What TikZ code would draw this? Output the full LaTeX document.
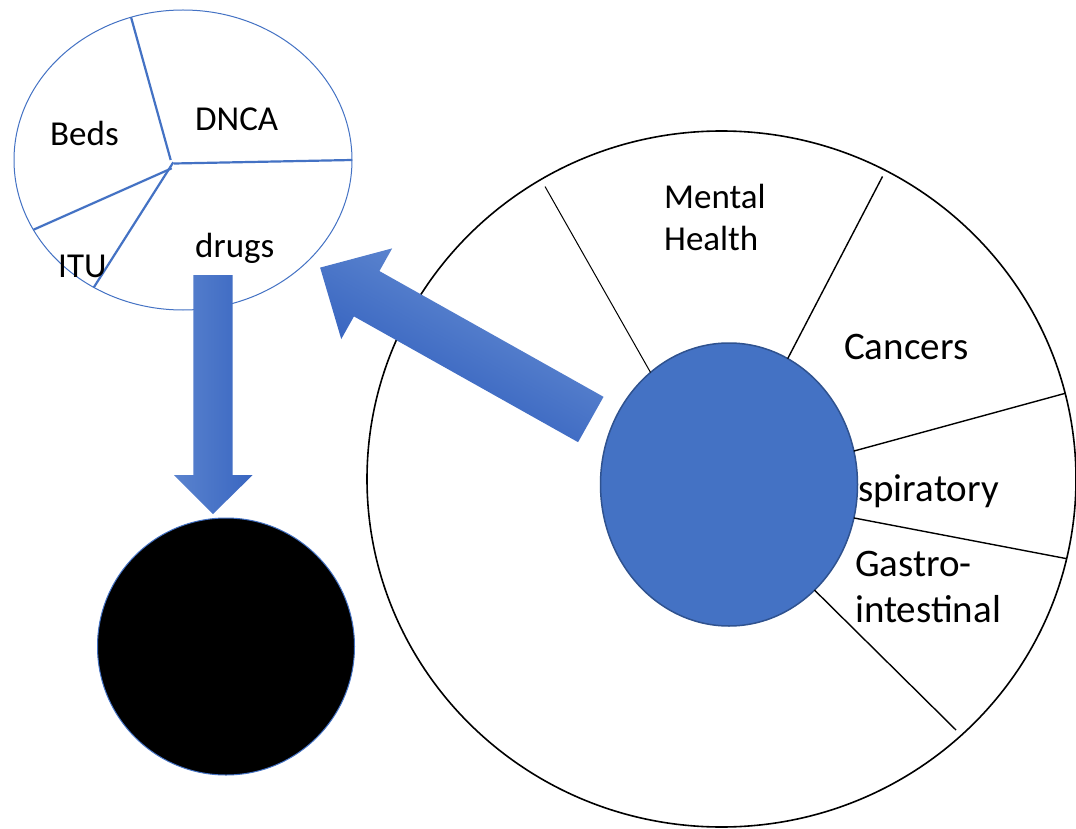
\documentclass[tikz,border=0pt]{standalone}
\usepackage{fontspec}
\setmainfont{Carlito}
\usetikzlibrary{shapes.geometric}
\definecolor{accent}{HTML}{4472C4}
\definecolor{accentdark}{HTML}{2F528F}
\definecolor{shadelight}{HTML}{5A83CE}
\definecolor{shadedark}{HTML}{3966C1}
\begin{document}
\begin{tikzpicture}[x=1pt,y=-1pt,
  oval/.style={ellipse, inner sep=0pt, outer sep=0pt},
  spoke/.style={draw=accent, line width=2.2pt},
  ray/.style={draw=black, line width=1.4pt},
  lbl/.style={anchor=base west, inner sep=0pt, font=\fontsize{35}{42}\selectfont},
  biglbl/.style={anchor=base west, inner sep=0pt, font=\fontsize{39}{46}\selectfont},
  blockarrow/.style={draw=none}]
\useasboundingbox (0,0) rectangle (1076,829);
\fill[white] (0,0) rectangle (1076,829);

% small pie, top left
\node[oval, draw=accent, line width=1pt, minimum width=338pt, minimum height=300pt] (pie) at (183,160) {};
\coordinate (pa) at (170.7,160);
\coordinate (pb) at (174,163.5);
\coordinate (pc) at (171.7,168.3);
\coordinate (pd) at (173.3,162.3);
\draw[spoke] (pie.110) -- (pa);
\draw[spoke] (pb) -- (pie.0);
\draw[spoke] (pie.205.2) -- (pc);
\draw[spoke] (pie.235.7) -- (pd);
\node[lbl] (beds) at (50,146) {Beds};
\node[lbl] (dnca) at (195,131) {DNCA};
\node[lbl] (drugs) at (195,258) {drugs};
\node[lbl] (itu) at (58,277) {ITU};

% black disc, bottom left
\node[circle, fill=black, draw=accent, line width=1pt, inner sep=0pt, outer sep=0pt, minimum size=257pt] (sink) at (226,646.5) {};

% large ring with its hub
\node[oval, draw=black, line width=1.6pt, minimum width=709pt, minimum height=696pt] (ring) at (721.5,479) {};
\node[oval, fill=accent, draw=accentdark, line width=1.5pt, minimum width=257pt, minimum height=283pt] (hub) at (729,484.5) {};
\coordinate (g1) at (545,186.5);
\coordinate (g2) at (882.5,176.5);
\coordinate (g5) at (956,730);
\draw[draw=black, line width=1pt] (hub.125.8) -- (g1);
\draw[ray] (hub.65.6) -- (g2);
\draw[ray] (hub.15.5) -- (ring.14.65);
\draw[ray] (hub.-15.7) -- (ring.-13.75);
\draw[ray] (hub.-51.3) -- (g5);

\node[lbl] (mental) at (664,209) {Mental};
\node[lbl] (health) at (664,251) {Health};
\node[biglbl] (cancers) at (844,359) {Cancers};
\node[biglbl] (resp) at (858,501) {spiratory};
\node[biglbl] (gastro) at (855,576) {Gastro-};
\node[biglbl] (intest) at (855,622) {intestinal};

% block arrow from the pie down to the disc
\shade[blockarrow, left color=shadelight, right color=shadedark]
  (193.3,275) -- (232.7,275) -- (232.7,475) -- (252.7,475) -- (213,514)
  -- (174,475) -- (193.3,475) -- cycle;

% block arrow from the hub up to the pie
\begin{scope}[transform canvas={shift={(590.8,419.5)}, rotate=150.7}]
  \shade[blockarrow, top color=shadedark, bottom color=shadelight]
    (0,-26) -- (257,-26) -- (257,-52) -- (310.4,0) -- (257,52) -- (257,26)
    -- (0,26) -- cycle;
\end{scope}
\end{tikzpicture}
\end{document}
